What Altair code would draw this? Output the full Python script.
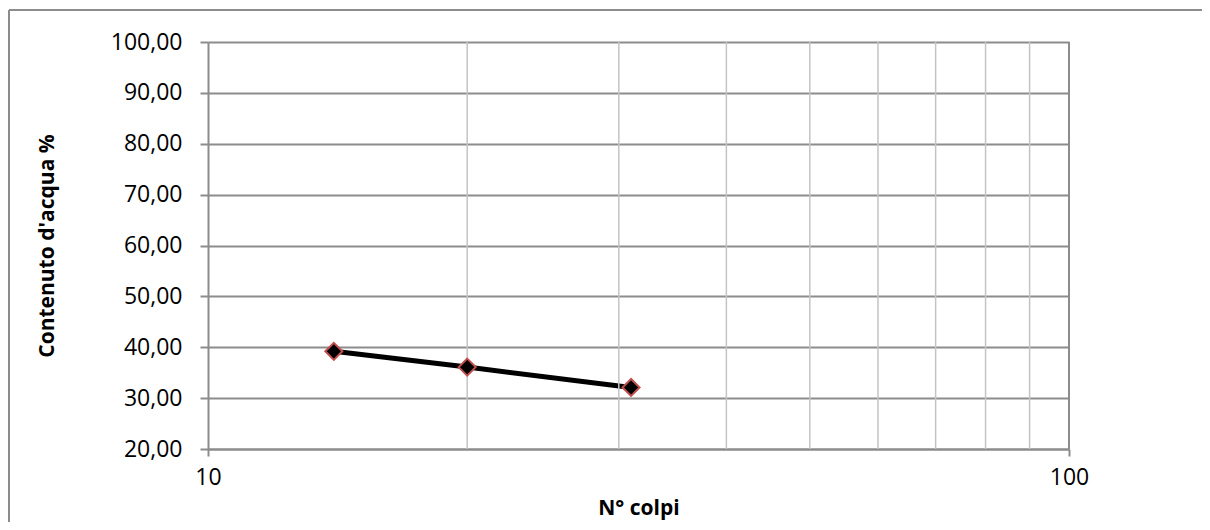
import altair as alt
import pandas as pd

colpi = [14, 20, 31]
acqua = [39.2, 36.1, 32.1]
y_ticks = [20, 30, 40, 50, 60, 70, 80, 90, 100]
x_major = [10, 100]
x_minor = [20, 30, 40, 50, 60, 70, 80, 90]

FONT = "Open Sans"
W, H = 861, 407

df = pd.DataFrame({"colpi": colpi, "acqua": acqua})
minor_df = pd.DataFrame({"g": x_minor})

xscale = alt.Scale(type="log", domain=[10, 100], nice=False)
yscale = alt.Scale(domain=[20, 100], nice=False, zero=False)

x_axis = alt.Axis(values=x_major, title="N° colpi", grid=False, labelFlush=False,
                  tickSize=7, tickColor="#8c8c8c", domainColor="#8c8c8c",
                  domainWidth=2, tickWidth=2, labelPadding=10,
                  labelFontSize=23, labelFont=FONT, labelColor="black",
                  titleFont=FONT, titleFontSize=21, titleFontWeight="bold",
                  titlePadding=8, titleColor="black")
y_axis = alt.Axis(values=y_ticks, title="Contenuto d'acqua %",
                  labelExpr="replace(format(datum.value, '.2f'), '.', ',')",
                  grid=True, gridColor="#8c8c8c", gridWidth=2,
                  tickSize=8, tickColor="#8c8c8c", domainColor="#8c8c8c",
                  domainWidth=2, tickWidth=2, labelPadding=18,
                  labelFontSize=23, labelFont=FONT, labelColor="black",
                  titleFont=FONT, titleFontSize=21, titleFontWeight="bold",
                  titlePadding=53, titleColor="black")

line = alt.Chart(df).mark_line(color="black", strokeWidth=5).encode(
    x=alt.X("colpi:Q", scale=xscale, axis=x_axis),
    y=alt.Y("acqua:Q", scale=yscale, axis=y_axis),
)

minor = alt.Chart(minor_df).mark_rule(color="#c4c4c4", strokeWidth=1.5).encode(
    x=alt.X("g:Q", scale=xscale)
)

points = alt.Chart(df).mark_point(shape="diamond", filled=True, fill="black",
                                  stroke="#c0504d", strokeWidth=2, size=290,
                                  opacity=1).encode(
    x=alt.X("colpi:Q", scale=xscale),
    y=alt.Y("acqua:Q", scale=yscale),
)

right_border = alt.Chart(pd.DataFrame({"g": [100]})).mark_rule(
    color="#8c8c8c", strokeWidth=2).encode(x=alt.X("g:Q", scale=xscale))

frame_v = alt.Chart(pd.DataFrame({"a": [0]})).mark_rule(
    color="#8c8c8c", strokeWidth=2).encode(
    x=alt.value(-199), y=alt.value(-32), y2=alt.value(600))
frame_h = alt.Chart(pd.DataFrame({"a": [0]})).mark_rule(
    color="#8c8c8c", strokeWidth=2).encode(
    x=alt.value(-199), x2=alt.value(1300), y=alt.value(-32))

chart = alt.layer(line, minor, right_border, points, frame_v, frame_h).properties(
    width=W, height=H,
    autosize=alt.AutoSizeParams(type="none"),
    padding={"left": 200, "top": 34, "right": 133, "bottom": 73},
    background="white",
).configure_view(stroke=None)

chart.save("out.html", embed_options={"renderer": "svg", "actions": False})
